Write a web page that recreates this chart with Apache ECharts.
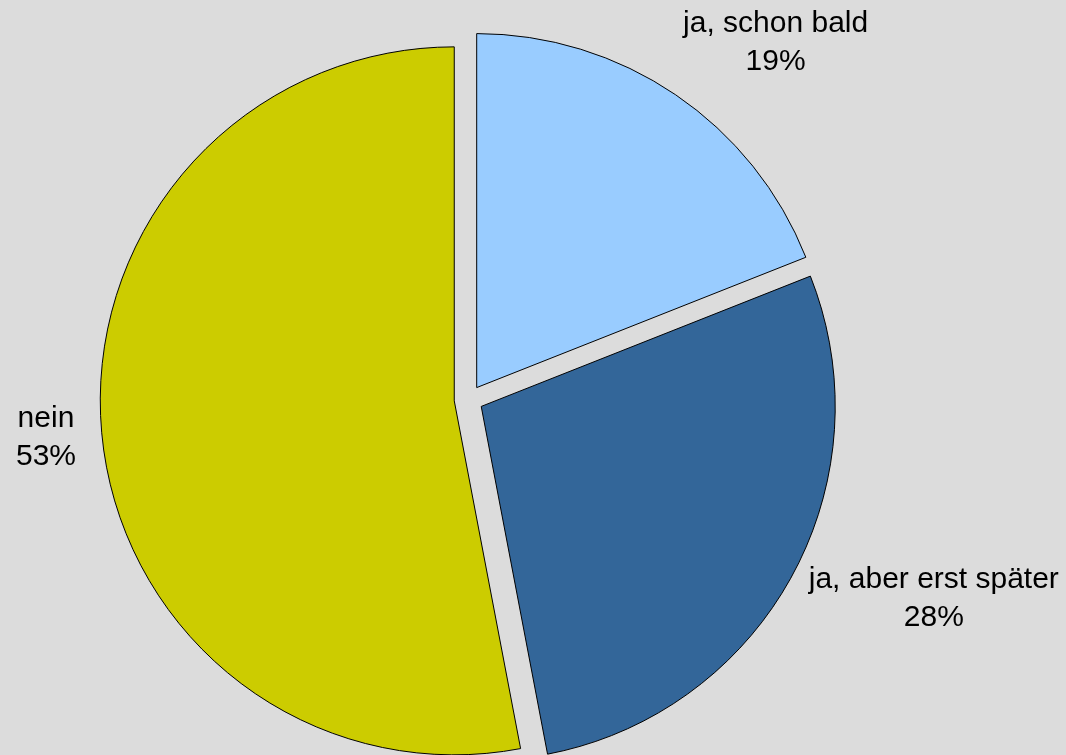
<!DOCTYPE html>
<html>
<head>
<meta charset="utf-8">
<script src="https://cdn.jsdelivr.net/npm/echarts@6/dist/echarts.min.js"></script>
<style>
  html, body { margin: 0; padding: 0; background: #dcdcdc; }
  #chart { width: 1066px; height: 755px; }
</style>
</head>
<body>
<div id="chart"></div>
<script>
// Survey answers and their shares (percent)
const categories = ['ja, schon bald', 'ja, aber erst später', 'nein'];
const shares = [19, 28, 53];

// Slice fills
const sliceColors = ['#99ccff', '#336699', '#cccc00'];
// Label leader reach per slice: radial part, then sideways part
const labelRadial = [63, 46, 38];
const labelSide = [-33, -28, -17];

const chart = echarts.init(document.getElementById('chart'), null, { renderer: 'canvas' });

const pieData = categories.map((name, i) => ({
  name: name,
  value: shares[i],
  selected: true,
  itemStyle: { color: sliceColors[i] },
  labelLine: { show: false, length: labelRadial[i], length2: labelSide[i] }
}));

chart.setOption({
  backgroundColor: '#dcdcdc',
  animation: false,
  series: [{
    type: 'pie',
    center: [468.6, 399.5],
    radius: 354,
    startAngle: 90,
    clockwise: true,
    selectedMode: 'multiple',
    selectedOffset: 14.4,
    avoidLabelOverlap: false,
    emphasis: { disabled: true },
    itemStyle: { borderColor: '#000000', borderWidth: 1 },
    select: { itemStyle: { borderColor: '#000000', borderWidth: 1 } },
    label: {
      show: true,
      position: 'outside',
      formatter: p => `{t|${p.name}}\n{t|${Math.round(p.percent)}%}`,
      rich: {
        t: {
          fontFamily: 'Liberation Sans',
          fontSize: 30,
          lineHeight: 38,
          color: '#000000',
          align: 'center'
        }
      }
    },
    labelLine: { show: false },
    data: pieData
  }]
});
</script>
</body>
</html>
